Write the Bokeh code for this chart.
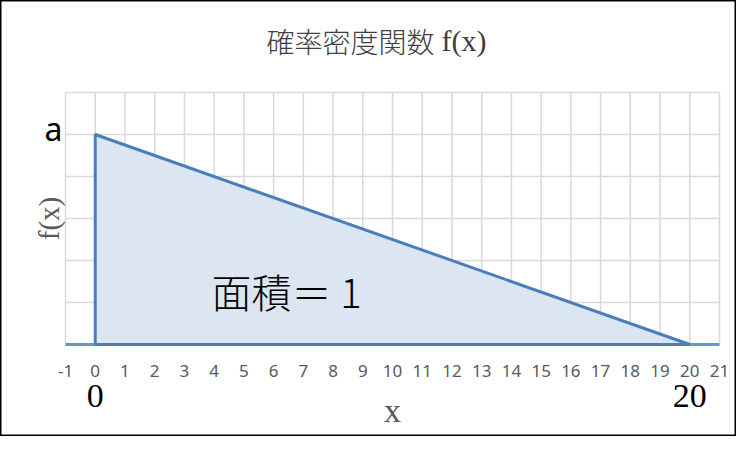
from bokeh.plotting import figure
from bokeh.core.properties import value
from bokeh.embed import file_html
from bokeh.resources import INLINE

# ---- data ----
a = 0.1                      # density height (area = 20 * a / 2 = 1)
tri_x = [0, 0, 20]
tri_y = [0, a, 0]
base_x = [-1, 21]
base_y = [0, 0]
edge_x = [0, 0, 20, 0]
edge_y = [0, a, 0, 0]
x_ticks = list(range(-1, 22))
x_tick_labels = [str(t) for t in x_ticks]
y_grid = [0, 0.02, 0.04, 0.06, 0.08, 0.10, 0.12]
end_labels_x = [0, 20]
end_labels_txt = ["0", "20"]
title_jp = "確率密度関数"
title_fx = "f(x)"
area_text = "面積＝ 1"

# ---- layout (pixels) ----
W, H = 736, 436
PX_L, PX_R = 65, 719     # pixel of x = -1 and x = 21
PY_B, PY_T = 344, 92     # pixel of y = 0 and y = 0.12
XMIN, XMAX, YMIN, YMAX = x_ticks[0], x_ticks[-1], y_grid[0], y_grid[-1]
sx = (PX_R - PX_L) / (XMAX - XMIN)
sy = (PY_B - PY_T) / (YMAX - YMIN)

def dx(px):
    return XMIN + (px - PX_L) / sx

def dy(py):
    return YMIN + (PY_B - py) / sy

JP_FONT = "Noto Sans CJK JP Light"

p = figure(width=W, height=H, x_range=(dx(0), dx(W)), y_range=(dy(H), dy(0)),
           output_backend="svg", toolbar_location=None, title=None,
           min_border=0, min_border_left=0, min_border_right=0,
           min_border_top=0, min_border_bottom=0)
p.xaxis.visible = False
p.yaxis.visible = False
p.xgrid.visible = False
p.ygrid.visible = False
p.background_fill_color = "white"
p.border_fill_color = "white"
p.outline_line_color = "black"
p.outline_line_width = 2

# gridlines
p.segment(x0=x_ticks, x1=x_ticks, y0=[YMIN] * len(x_ticks), y1=[YMAX] * len(x_ticks),
          line_color="#d9d9d9", line_width=1.5)
p.segment(x0=[XMIN] * len(y_grid), x1=[XMAX] * len(y_grid), y0=y_grid, y1=y_grid,
          line_color="#d9d9d9", line_width=1.5)

# series
p.patch(tri_x, tri_y, fill_color="#dce6f2", line_color=None)
p.line(base_x, base_y, line_color="#5b9bd5", line_width=3)
p.line(edge_x, edge_y, line_color="#4a7ebb", line_width=3)

# tick labels
p.text(x=x_ticks, y=[dy(370)] * len(x_ticks), text=x_tick_labels, text_align="center",
       text_baseline="middle", text_font=value("Noto Sans"), text_font_size="17px",
       text_color="#595959")

# texts
p.text(x=[dx(434)], y=[dy(40)], text=[title_jp], text_align="right", text_baseline="middle",
       text_font=value(JP_FONT), text_font_size="28px", text_color="#404040")
p.text(x=[dx(441)], y=[dy(40)], text=[title_fx], text_align="left", text_baseline="middle",
       text_font=value("Liberation Serif"), text_font_size="30px", text_color="#404040")
p.text(x=[dx(62)], y=[dy(128)], text=["a"], text_align="right", text_baseline="middle",
       text_font=value("Noto Sans"), text_font_size="32px", text_color="#000000")
p.text(x=[dx(48)], y=[(YMIN + YMAX) / 2], text=["f(x)"], angle=1.5707963,
       text_align="center", text_baseline="middle", text_font=value("Liberation Serif"),
       text_font_size="29px", text_color="#595959")
p.text(x=[dx(286)], y=[dy(290)], text=[area_text], text_align="center", text_baseline="middle",
       text_font=value(JP_FONT), text_font_size="40px", text_color="#000000")
p.text(x=end_labels_x, y=[dy(395)] * len(end_labels_x), text=end_labels_txt,
       text_align="center", text_baseline="middle", text_font=value("Liberation Serif"),
       text_font_size="34px", text_color="#000000")
p.text(x=[(XMIN + XMAX) / 2], y=[dy(410)], text=["x"], text_align="center",
       text_baseline="middle", text_font=value("Liberation Serif"), text_font_size="34px",
       text_color="#595959")

open("out.html", "w").write(file_html(p, INLINE))
